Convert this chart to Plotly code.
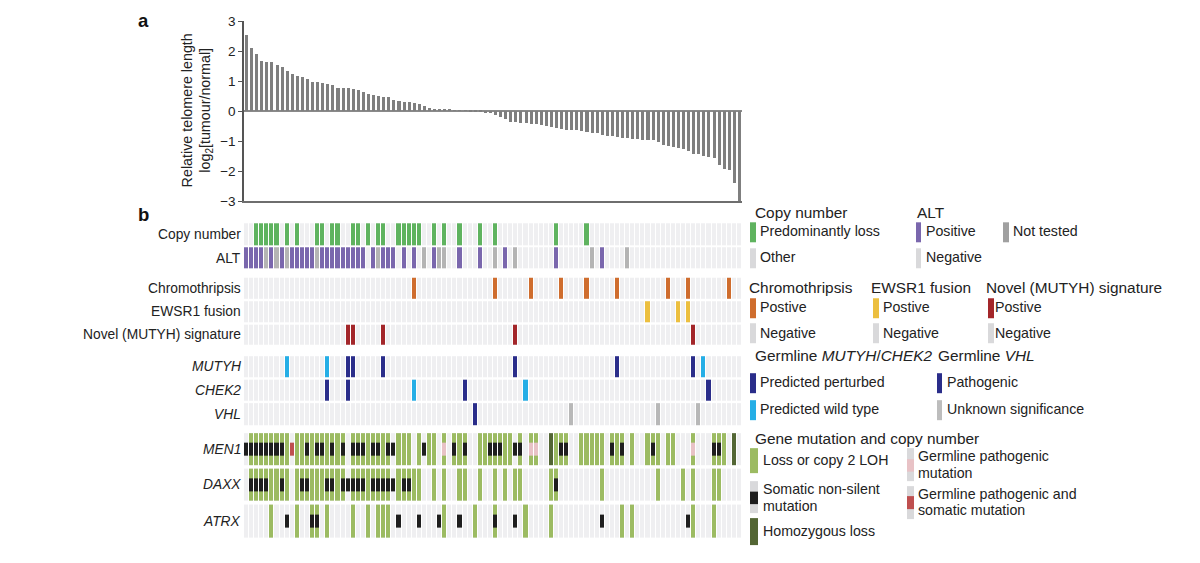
import plotly.graph_objects as go

W, H = 1200, 563
N = 98

# ---------------- data ----------------
telomere = [2.52, 2.10, 1.90, 1.67, 1.62, 1.62, 1.52, 1.46, 1.32, 1.22,
            1.15, 1.13, 1.08, 0.97, 0.95, 0.93, 0.91, 0.88, 0.78, 0.76,
            0.75, 0.73, 0.69, 0.62, 0.57, 0.53, 0.50, 0.48, 0.47, 0.38,
            0.34, 0.31, 0.30, 0.28, 0.22, 0.15, 0.10, 0.07, 0.06, 0.05,
            0.04, 0.03, 0.02, 0.01, -0.01, -0.03, -0.05, -0.07, -0.08, -0.12,
            -0.20, -0.28, -0.36, -0.38, -0.39, -0.41, -0.43, -0.45, -0.47, -0.49,
            -0.53, -0.57, -0.60, -0.62, -0.64, -0.65, -0.67, -0.69, -0.72, -0.74,
            -0.80, -0.83, -0.85, -0.88, -0.90, -0.91, -0.92, -0.93, -0.96, -0.97,
            -0.98, -1.02, -1.12, -1.17, -1.20, -1.23, -1.26, -1.32, -1.42, -1.45,
            -1.50, -1.54, -1.58, -1.80, -1.94, -1.98, -2.42, -3.00]

y_tick_vals = [3, 2, 1, 0, -1, -2, -3]
y_tick_text = ["3", "2", "1", "0", "\u22121", "\u22122", "\u22123"]

cn_loss = [2, 3, 4, 5, 6, 8, 10, 14, 15, 17, 18, 21, 22, 24, 26, 27, 30, 31, 32, 33, 34,
           37, 39, 42, 46, 49, 61, 67]
alt_positive = [0, 1, 2, 3, 5, 7, 9, 10, 11, 12, 13, 15, 16, 17, 18, 19, 20, 21, 22, 23,
                25, 27, 28, 29, 31, 33, 37, 42, 46, 51, 61, 70]
alt_not_tested = [4, 6, 8, 14, 26, 35, 38, 39, 49, 53, 68, 75]
chromothripsis_pos = [33, 49, 56, 62, 67, 73, 83, 87, 95]
ewsr1_pos = [79, 85, 87]
mutyh_signature_pos = [20, 21, 27, 53, 88]
mutyh_perturbed = [20, 21, 27, 53, 73, 88]
mutyh_wild_type = [8, 16, 90]
chek2_perturbed = [16, 20, 43, 91]
chek2_wild_type = [33, 55]
vhl_pathogenic = [45]
vhl_unknown = [64, 81, 89]

men1_loh = [1, 2, 3, 4, 5, 6, 7, 8, 10, 11, 12, 13, 14, 15, 16, 17, 18, 19, 21, 22, 23, 24,
            25, 26, 27, 28, 30, 31, 32, 34, 36, 37, 39, 41, 42, 43, 46, 47, 48, 49, 50, 51,
            52, 54, 56, 57, 61, 62, 63, 66, 67, 68, 69, 70, 72, 73, 74, 76, 79, 80, 81, 83,
            84, 88, 92, 93, 94]
men1_homdel = [60, 96]
men1_somatic = [0, 1, 2, 3, 4, 5, 6, 7, 12, 14, 15, 17, 19, 21, 22, 23, 25, 26, 28, 29, 35,
                41, 43, 48, 49, 50, 53, 54, 62, 63, 72, 74, 80, 92, 93]
men1_germline = [39, 56, 57, 88]
men1_germ_som = [9]

daxx_loh = [1, 2, 3, 4, 5, 6, 7, 8, 10, 11, 12, 13, 14, 15, 16, 17, 18, 19, 21, 22, 23, 24,
            25, 26, 27, 28, 30, 31, 32, 33, 34, 37, 39, 42, 43, 46, 49, 51, 53, 54, 60, 61,
            70, 81, 86, 88, 92, 93]
daxx_somatic = [1, 2, 3, 4, 7, 11, 12, 16, 17, 19, 20, 21, 22, 23, 25, 26, 27, 28, 29, 31,
                32, 61]

atrx_loh = [5, 10, 13, 14, 16, 21, 24, 26, 27, 28, 39, 45, 49, 55, 60, 74, 76, 88, 92]
atrx_somatic = [8, 13, 14, 30, 34, 38, 42, 49, 53, 70, 87]

# ---------------- styles ----------------
C_BG = "#efeff1"
C_NEG_LEG = "#d9d9db"
C_GREEN = "#5fb35f"
C_PURPLE = "#7a67ad"
C_NT = "#b4b4b4"
C_ORANGE = "#cf6d2e"
C_YELLOW = "#ecbf3f"
C_DARKRED = "#a3262a"
C_DBLUE = "#2a2d8a"
C_LBLUE = "#25aee6"
C_VHLGRAY = "#b8b8b8"
C_LOH = "#9cbb62"
C_HOM = "#536634"
C_BLACK = "#1e1e1e"
C_PINK = "#e8c2c6"
C_RED = "#bf4f4f"
FONT = "Liberation Sans, Arial, sans-serif"
TXT = "#222222"

X0, X1 = 244, 742
# vertical calibration of the rendered page (target pixel -> layout pixel)
SY, OY = 0.974, 6.55


def px(x):
    return x / W


def py(y):
    return 1 - ((y - OY) / SY) / H


fig = go.Figure()

# ---- panel a: bars ----
fig.add_trace(go.Bar(x=list(range(N)), y=telomere, marker_color="#7f7f7f",
                     marker_line_width=0, width=0.6, hoverinfo="skip",
                     xaxis="x", yaxis="y"))

# ---- panel b: heatmap rows ----
edges = list(range(N + 1))


def cells(y0, y1, cols, color):
    s = set(cols)
    z = [[1 if i in s else None for i in range(N)]]
    fig.add_trace(go.Heatmap(x=edges, y=[y0, y1], z=z, zmin=0, zmax=1,
                             colorscale=[[0, color], [1, color]], showscale=False,
                             xgap=1, ygap=0, hoverinfo="skip",
                             xaxis="x2", yaxis="y2"))


ALL = list(range(N))
rows = [
    (223, 245, [(cn_loss, C_GREEN)], "Copy number", False),
    (247, 268.5, [(alt_positive, C_PURPLE), (alt_not_tested, C_NT)], "ALT", False),
    (277.5, 299, [(chromothripsis_pos, C_ORANGE)], "Chromothripsis", False),
    (301, 322, [(ewsr1_pos, C_YELLOW)], "EWSR1 fusion", False),
    (324.5, 345, [(mutyh_signature_pos, C_DARKRED)], "Novel (MUTYH) signature", False),
    (356, 377.5, [(mutyh_perturbed, C_DBLUE), (mutyh_wild_type, C_LBLUE)], "MUTYH", True),
    (379.5, 401, [(chek2_perturbed, C_DBLUE), (chek2_wild_type, C_LBLUE)], "CHEK2", True),
    (403, 425, [(vhl_pathogenic, C_DBLUE), (vhl_unknown, C_VHLGRAY)], "VHL", True),
]
gene_rows = [
    (433, 465, men1_loh, men1_homdel,
     [(men1_somatic, C_BLACK), (men1_germline, C_PINK), (men1_germ_som, C_RED)], "MEN1"),
    (468.5, 501, daxx_loh, [], [(daxx_somatic, C_BLACK)], "DAXX"),
    (504.5, 537.5, atrx_loh, [], [(atrx_somatic, C_BLACK)], "ATRX"),
]

annotations = []


def label(x, y, text, size=13, anchor="left", bold=False, color=TXT):
    if bold:
        text = "<b>" + text + "</b>"
    annotations.append(dict(x=px(x), y=py(y), xref="paper", yref="paper", text=text,
                            showarrow=False, xanchor=anchor, yanchor="middle",
                            align=anchor if anchor in ("left", "right") else "center",
                            font=dict(family=FONT, size=size, color=color)))


RS = 13.8
for y0, y1, layers, name, ital in rows:
    cells(y0, y1, ALL, C_BG)
    for cols, col in layers:
        cells(y0, y1, cols, col)
    label(243, (y0 + y1) / 2, "<i>%s</i>" % name if ital else name, RS, "right")

for y0, y1, loh, hom, muts, name in gene_rows:
    cells(y0, y1, ALL, C_BG)
    cells(y0, y1, loh, C_LOH)
    if hom:
        cells(y0, y1, hom, C_HOM)
    m = (y0 + y1) / 2
    for cols, col in muts:
        cells(m - 6.5, m + 6.5, cols, col)
    label(243, m, "<i>%s</i>" % name, RS, "right")

# ---- panel labels & axis title ----
label(136, 20, "a", 18.5, "left", bold=True, color="#111")
label(136, 214, "b", 18.5, "left", bold=True, color="#111")
annotations.append(dict(x=px(197), y=py(110), xref="paper", yref="paper",
                        text="Relative telomere length<br>log<sub>2</sub>[tumour/normal]",
                        showarrow=False, textangle=-90, xanchor="center", yanchor="middle",
                        font=dict(family=FONT, size=14.3, color=TXT)))

# ---- legend ----
shapes = []


def swatch(x0, y0, x1, y1, color, mid=None):
    shapes.append(dict(type="rect", xref="paper", yref="paper", x0=px(x0), x1=px(x1),
                       y0=py(y1), y1=py(y0), fillcolor=color, line=dict(width=0)))
    if mid:
        mc, m0, m1 = mid
        shapes.append(dict(type="rect", xref="paper", yref="paper", x0=px(x0), x1=px(x1),
                           y0=py(m1), y1=py(m0), fillcolor=mc, line=dict(width=0)))


LS = 14.2
TS = 15.4
label(753, 212, "Copy number", TS)
label(915, 212, "ALT", TS)
swatch(750, 222, 756, 242, C_GREEN)
label(758, 231, "Predominantly loss", LS)
swatch(750, 248, 756, 268, C_NEG_LEG)
label(758, 257, "Other", LS)
swatch(916, 222, 921, 242, C_PURPLE)
label(924, 231, "Positive", LS)
swatch(916, 248, 921, 268, C_NEG_LEG)
label(924, 257, "Negative", LS)
swatch(1003, 222, 1009, 242, "#a0a0a0")
label(1011, 231, "Not tested", LS)

label(747, 287, "Chromothripsis", TS)
label(869, 287, "EWSR1 fusion", TS)
label(984, 287, "Novel (MUTYH) signature", TS)
swatch(750, 298, 756, 318, C_ORANGE)
label(758, 307, "Postive", LS)
swatch(873, 298, 879, 318, C_YELLOW)
label(881, 307, "Postive", LS)
swatch(988, 298, 994, 318, C_DARKRED)
label(993, 307, "Postive", LS)
swatch(750, 323, 756, 343, C_NEG_LEG)
label(758, 333, "Negative", LS)
swatch(873, 323, 879, 343, C_NEG_LEG)
label(881, 333, "Negative", LS)
swatch(988, 323, 994, 343, C_NEG_LEG)
label(993, 333, "Negative", LS)

label(753, 355, "Germline <i>MUTYH</i>/<i>CHEK2</i>", TS)
label(936, 355, "Germline <i>VHL</i>", TS)
swatch(750, 373, 756, 393, C_DBLUE)
label(758, 382, "Predicted perturbed", LS)
swatch(937, 373, 942, 393, C_DBLUE)
label(945, 382, "Pathogenic", LS)
swatch(750, 400, 756, 420, C_LBLUE)
label(758, 409, "Predicted wild type", LS)
swatch(937, 400, 942, 420, "#bdbdbd")
label(945, 409, "Unknown significance", LS)

label(753, 438, "Gene mutation and copy number", TS)
swatch(750, 448, 758, 473, C_LOH)
label(761, 460, "Loss or copy 2 LOH", LS)
swatch(750, 481, 758, 513, C_NEG_LEG, (C_BLACK, 491.5, 504))
label(761, 489, "Somatic non-silent", LS)
label(761, 505.5, "mutation", LS)
swatch(750, 518, 758, 545, C_HOM)
label(761, 531, "Homozygous loss", LS)
swatch(907, 448, 914, 481, C_NEG_LEG, (C_PINK, 459, 471.5))
label(916, 456, "Germline pathogenic", LS)
label(916, 472.5, "mutation", LS)
swatch(907, 486, 914, 519, C_NEG_LEG, (C_RED, 496, 509))
label(916, 493.5, "Germline pathogenic and", LS)
label(916, 510, "somatic mutation", LS)

fig.update_layout(
    width=W, height=H, margin=dict(l=0, r=0, t=0, b=0),
    paper_bgcolor="white", plot_bgcolor="white", showlegend=False,
    bargap=0,
    xaxis=dict(domain=[px(X0), px(X1)], range=[-0.5, N - 0.5], showticklabels=False,
               ticks="", showgrid=False, zeroline=False, showline=True,
               linecolor="#6e6e6e", linewidth=1.5, anchor="y", fixedrange=True),
    yaxis=dict(domain=[py(201), py(21)], range=[-3, 3], tickvals=y_tick_vals,
               ticktext=y_tick_text, ticks="outside", ticklen=4, tickcolor="#555",
               showline=True, linecolor="#555", linewidth=1.5, showgrid=False,
               zeroline=True, zerolinecolor="#8a8a8a", zerolinewidth=1.5,
               tickfont=dict(family=FONT, size=13.5, color=TXT), anchor="x",
               fixedrange=True),
    xaxis2=dict(domain=[px(X0), px(X1)], range=[0, N], visible=False, anchor="y2",
                fixedrange=True),
    yaxis2=dict(domain=[py(540), py(220)], range=[540, 220], visible=False, anchor="x2",
                fixedrange=True),
    annotations=annotations, shapes=shapes,
)

page_fix = ("var gd=document.getElementById('{plot_id}');"
            "gd.style.position='fixed';gd.style.top='0px';gd.style.left='0px';"
            "gd.style.margin='0';"
            "var s=document.createElement('style');"
            "s.textContent='html,body{margin:0;padding:0;overflow:hidden;"
            "width:1200px;height:563px;background:#fff}';"
            "document.head.appendChild(s);"
            "Plotly.relayout(gd,{width:1200,height:563});")

fig.write_html("out.html", post_script=page_fix,
               config={"responsive": False, "displayModeBar": False})
